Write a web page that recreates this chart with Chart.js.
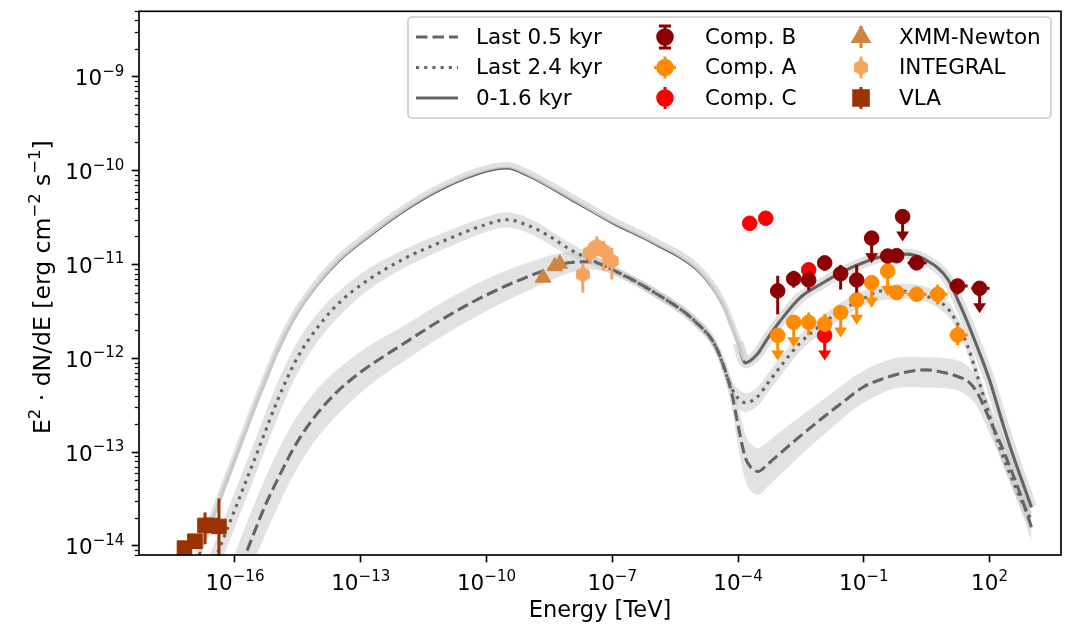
<!DOCTYPE html>
<html>
<head>
<meta charset="utf-8">
<title>SED</title>
<script src="https://cdn.jsdelivr.net/npm/chart.js@4.4.0/dist/chart.umd.min.js"></script>
<style>
  html, body { margin: 0; padding: 0; background: #fff; }
  canvas { display: block; }
</style>
</head>
<body>
<canvas id="sed" width="1074" height="627"></canvas>
<script>
// Energies in TeV, fluxes as E^2 dN/dE in erg cm^-2 s^-1

// model: 0-1.6 kyr (solid)
const model16Energy = [1e-17, 2e-17, 3e-17, 5e-17, 1e-16, 2e-16, 3e-16, 5e-16, 1e-15, 3e-15, 1e-14, 3e-14, 1e-13, 1e-12, 1e-11, 1e-10, 3e-10, 1e-9, 1e-8, 1e-7, 1e-6, 1e-5, 3e-5, 5e-5, 7e-5, 1e-4, 1.5e-4, 2e-4, 3e-4, 5e-4, 1e-3, 3e-3, 1e-2, 3e-2, 0.1, 0.3, 1, 3, 10, 20, 30, 50, 100, 200, 300, 500, 1000];
const model16Flux = [5.35e-15, 1.24e-14, 2.00e-14, 3.68e-14, 8.36e-14, 1.89e-13, 3.05e-13, 5.37e-13, 1.15e-12, 3.01e-12, 6.41e-12, 1.10e-11, 1.72e-11, 3.66e-11, 6.64e-11, 9.91e-11, 1.07e-10, 8.85e-11, 5.02e-11, 2.80e-11, 1.68e-11, 9.04e-12, 4.99e-12, 3.26e-12, 2.21e-12, 1.46e-12, 8.93e-13, 9.46e-13, 1.13e-12, 1.61e-12, 2.48e-12, 4.41e-12, 6.27e-12, 8.30e-12, 1.05e-11, 1.23e-11, 1.29e-11, 1.12e-11, 7.01e-12, 3.66e-12, 2.40e-12, 1.35e-12, 5.86e-13, 2.12e-13, 1.19e-13, 6.15e-14, 2.57e-14];

// model: last 2.4 kyr (dotted)
const model24Energy = [2e-17, 3e-17, 5e-17, 1e-16, 2e-16, 3e-16, 5e-16, 1e-15, 3e-15, 1e-14, 3e-14, 1e-13, 1e-12, 1e-11, 1e-10, 3e-10, 1e-9, 3e-9, 1e-8, 3e-8, 1e-7, 1e-6, 1e-5, 3e-5, 7e-5, 1e-4, 1.5e-4, 2e-4, 3e-4, 5e-4, 1e-3, 3e-3, 1e-2, 3e-2, 0.1, 0.3, 1, 3, 10, 20, 30, 50, 100, 200, 300, 500, 1000];
const model24Flux = [4.01e-15, 6.28e-15, 1.12e-14, 2.45e-14, 5.40e-14, 8.59e-14, 1.55e-13, 3.43e-13, 9.91e-13, 2.22e-12, 3.87e-12, 6.03e-12, 1.13e-11, 1.80e-11, 2.68e-11, 3.00e-11, 2.60e-11, 2.03e-11, 1.44e-11, 1.13e-11, 8.81e-12, 5.05e-12, 2.42e-12, 1.31e-12, 4.82e-13, 3.76e-13, 3.35e-13, 3.46e-13, 3.94e-13, 5.33e-13, 8.02e-13, 1.45e-12, 2.30e-12, 3.25e-12, 4.36e-12, 5.26e-12, 5.18e-12, 4.62e-12, 3.40e-12, 2.05e-12, 1.35e-12, 6.71e-13, 2.44e-13, 9.46e-14, 6.00e-14, 3.48e-14, 1.87e-14];
const model24BandEnergy = [2e-17, 1e-16, 3e-16, 1e-15, 3e-15, 1e-14, 1e-13, 1e-12, 1e-11, 1e-10, 3e-10, 1e-9, 1e-8, 1e-7, 1e-6, 1e-5, 3e-5, 7e-5, 1e-4, 1.5e-4, 2e-4, 3e-4, 5e-4, 1e-3, 3e-3, 1e-2, 0.1, 1, 10, 20, 30, 50, 100, 200, 300, 500, 1000];
const model24BandHigh = [6.21e-15, 3.80e-14, 1.33e-13, 5.31e-13, 1.47e-12, 3.14e-12, 7.95e-12, 1.42e-11, 2.21e-11, 3.22e-11, 3.61e-11, 3.13e-11, 1.69e-11, 9.88e-12, 5.67e-12, 2.72e-12, 1.50e-12, 5.79e-13, 4.73e-13, 4.22e-13, 4.36e-13, 4.96e-13, 6.71e-13, 1.01e-12, 1.78e-12, 2.83e-12, 5.24e-12, 6.23e-12, 4.09e-12, 2.46e-12, 1.66e-12, 8.25e-13, 3.07e-13, 1.19e-13, 7.55e-14, 4.38e-14, 2.35e-14];
const model24BandLow = [2.59e-15, 1.58e-14, 5.55e-14, 2.21e-13, 6.70e-13, 1.57e-12, 4.58e-12, 8.98e-12, 1.46e-11, 2.23e-11, 2.50e-11, 2.16e-11, 1.23e-11, 7.85e-12, 4.50e-12, 2.16e-12, 1.14e-12, 4.01e-13, 2.99e-13, 2.66e-13, 2.75e-13, 3.13e-13, 4.23e-13, 6.37e-13, 1.18e-12, 1.87e-12, 3.63e-12, 4.31e-12, 2.83e-12, 1.71e-12, 1.10e-12, 5.46e-13, 1.94e-13, 7.51e-14, 4.77e-14, 2.76e-14, 1.49e-14];

// model: last 0.5 kyr (dashed)
const model05Energy = [1e-16, 2e-16, 3e-16, 5e-16, 1e-15, 3e-15, 1e-14, 3e-14, 1e-13, 1e-12, 1e-11, 1e-10, 1e-9, 3e-9, 1e-8, 3e-8, 1e-7, 1e-6, 1e-5, 3e-5, 7e-5, 1e-4, 1.5e-4, 2e-4, 3e-4, 5e-4, 1e-3, 3e-3, 1e-2, 3e-2, 0.1, 0.3, 1, 3, 10, 20, 30, 50, 100, 200, 300, 500, 1000];
const model05Flux = [4.18e-15, 9.16e-15, 1.45e-14, 2.55e-14, 4.93e-14, 1.26e-13, 2.70e-13, 4.56e-13, 7.13e-13, 1.41e-12, 2.70e-12, 4.73e-12, 7.46e-12, 8.89e-12, 1.05e-11, 1.07e-11, 8.81e-12, 5.05e-12, 2.42e-12, 1.31e-12, 4.33e-13, 1.94e-13, 8.69e-14, 6.90e-14, 6.19e-14, 7.35e-14, 9.64e-14, 1.47e-13, 2.28e-13, 3.34e-13, 4.97e-13, 6.08e-13, 7.11e-13, 7.52e-13, 6.89e-13, 6.24e-13, 5.73e-13, 4.34e-13, 2.23e-13, 1.12e-13, 7.11e-14, 3.92e-14, 1.58e-14];
const model05BandEnergy = [1e-16, 3e-16, 1e-15, 3e-15, 1e-14, 1e-13, 1e-12, 1e-11, 1e-10, 1e-9, 1e-8, 3e-8, 1e-7, 1e-6, 1e-5, 3e-5, 7e-5, 1e-4, 1.5e-4, 2e-4, 3e-4, 5e-4, 1e-3, 3e-3, 1e-2, 0.1, 1, 10, 30, 50, 100, 200, 300, 500, 1000];
const model05BandHigh = [8.34e-15, 2.89e-14, 9.84e-14, 2.40e-13, 4.91e-13, 1.18e-12, 2.18e-12, 4.09e-12, 7.00e-12, 1.05e-11, 1.35e-11, 1.29e-11, 9.88e-12, 5.67e-12, 2.78e-12, 1.57e-12, 6.12e-13, 3.22e-13, 1.55e-13, 1.23e-13, 1.10e-13, 1.28e-13, 1.64e-13, 2.38e-13, 3.53e-13, 7.35e-13, 1.03e-12, 9.96e-13, 8.28e-13, 6.13e-13, 3.15e-13, 1.58e-13, 1.00e-13, 5.54e-14, 2.23e-14];
const model05BandLow = [2.10e-15, 7.27e-15, 2.47e-14, 6.61e-14, 1.48e-13, 4.30e-13, 9.10e-13, 1.78e-12, 3.20e-12, 5.28e-12, 8.15e-12, 8.90e-12, 7.85e-12, 4.50e-12, 2.11e-12, 1.09e-12, 3.06e-13, 1.17e-13, 4.89e-14, 3.88e-14, 3.48e-14, 4.23e-14, 5.68e-14, 9.06e-14, 1.47e-13, 3.36e-13, 4.92e-13, 4.77e-13, 3.97e-13, 3.07e-13, 1.58e-13, 7.93e-14, 5.03e-14, 2.77e-14, 1.12e-14];

// gamma-ray components (null = no bar)
const compBEnergy = [8.85e-4, 2.13e-3, 4.85e-3, 1.17e-2, 2.81e-2, 6.78e-2, 0.154, 0.372, 0.608, 0.845, 1.82, 17.3, 58.0];
const compBFlux = [5.23e-12, 7.05e-12, 6.84e-12, 1.04e-11, 7.96e-12, 6.84e-12, 1.91e-11, 1.23e-11, 1.24e-11, 3.24e-11, 1.04e-11, 5.90e-12, 5.57e-12];
const compBLow = [2.94e-12, 5.66e-12, 5.27e-12, 8.57e-12, 5.40e-12, 5.01e-12, null, 1.10e-11, 1.11e-11, null, 9.30e-12, 4.78e-12, null];
const compBHigh = [7.59e-12, 8.57e-12, 8.57e-12, 1.23e-11, 9.91e-12, 9.91e-12, null, 1.38e-11, 1.38e-11, null, 1.16e-11, 6.89e-12, null];
const compBEnergyLow = [null, null, null, null, null, null, null, null, null, null, 1.11, 11.2, 36.7];
const compBEnergyHigh = [null, null, null, null, null, null, null, null, null, null, 3.16, 30.0, 100];
const compBUpper = [false, false, false, false, false, false, true, false, false, true, false, false, true];

const compAEnergy = [8.85e-4, 2.13e-3, 4.85e-3, 1.17e-2, 2.81e-2, 6.78e-2, 0.154, 0.372, 0.608, 1.82, 5.78, 17.3];
const compAFlux = [1.75e-12, 2.42e-12, 2.42e-12, 2.32e-12, 3.08e-12, 4.20e-12, 6.40e-12, 8.51e-12, 5.01e-12, 4.81e-12, 4.81e-12, 1.77e-12];
const compALow = [null, null, 1.76e-12, 1.90e-12, null, null, null, null, 4.50e-12, 4.40e-12, 3.75e-12, 1.38e-12];
const compAHigh = [null, null, 3.08e-12, 2.96e-12, null, null, null, null, 5.60e-12, 5.30e-12, 6.09e-12, 2.25e-12];
const compAEnergyLow = [null, null, null, null, null, null, null, null, 0.372, 1.11, 3.73, 11.2];
const compAEnergyHigh = [null, null, null, null, null, null, null, null, 1.05, 3.16, 10.0, 30.0];
const compAUpper = [true, true, false, false, true, true, true, true, false, false, false, false];

const compCEnergy = [1.90e-4, 4.58e-4, 4.85e-3, 1.17e-2];
const compCFlux = [2.75e-11, 3.11e-11, 8.77e-12, 1.75e-12];
const compCUpper = [false, false, false, true];

// X-ray, hard X-ray and radio points
const xmmEnergy = [2.24e-9, 4.27e-9, 5.61e-9];
const xmmFlux = [7.23e-12, 9.59e-12, 1.02e-11];

const integralEnergy = [1.99e-8, 2.91e-8, 4.28e-8, 6.28e-8, 9.75e-8];
const integralFlux = [7.83e-12, 1.33e-11, 1.57e-11, 1.39e-11, 1.09e-11];
const integralLow = [5.01e-12, 1.04e-11, 1.23e-11, 8.57e-12, 6.89e-12];
const integralHigh = [1.04e-11, 1.69e-11, 2.00e-11, 1.78e-11, 1.50e-11];

const vlaEnergy = [6.25e-18, 1.11e-17, 1.93e-17, 2.83e-17, 4.15e-17];
const vlaFlux = [9.44e-15, 1.12e-14, 1.65e-14, 1.65e-14, 1.61e-14];
const vlaLow = [null, null, 1.04e-14, null, 7.78e-15];
const vlaHigh = [null, null, 2.27e-14, null, 3.19e-14];

// axis ticks
const xTicks = [1e-16, 1e-13, 1e-10, 1e-7, 1e-4, 1e-1, 1e2];
const yTicks = [1e-14, 1e-13, 1e-12, 1e-11, 1e-10, 1e-9];

const FONT = 'DejaVu Sans';
const FS = 21.5;
const LABEL_FS = 22.5;
const LINE = '#646464';
const BAND = 'rgba(190,190,190,0.45)';
const COL = {
  compB: '#8b0000', compA: '#ff8c00', compC: '#ff0000',
  xmm: '#cd853f', integral: '#f4a460', vla: '#9a3300'
};

const pts = (xs, ys) => xs.map((v, i) => ({ x: v, y: ys[i] }));
const font = size => size + 'px "' + FONT + '"';

function hexagon(r, color) {
  const c = document.createElement('canvas');
  const s = Math.ceil(2 * r + 2);
  c.width = c.height = s;
  const g = c.getContext('2d');
  g.fillStyle = color;
  g.beginPath();
  for (let k = 0; k < 6; k++) {
    const a = -Math.PI / 2 + k * Math.PI / 3;
    const px = s / 2 + r * Math.cos(a), py = s / 2 + r * Math.sin(a);
    if (k) g.lineTo(px, py); else g.moveTo(px, py);
  }
  g.closePath();
  g.fill();
  return c;
}
const hexIntegral = hexagon(8, COL.integral);

const lineBase = {
  showLine: true, pointRadius: 0, pointHoverRadius: 0, fill: false,
  cubicInterpolationMode: 'monotone', capBezierPoints: false,
  borderCapStyle: 'butt', clip: 0
};
const markerBase = { showLine: false, pointBorderWidth: 1, clip: 0, order: 0 };

function markers(label, xs, ys, color, style, radius, errors) {
  return Object.assign({}, markerBase, {
    label, data: pts(xs, ys), pointStyle: style, pointRadius: radius,
    pointBackgroundColor: color, pointBorderColor: color, errColor: color, errors
  });
}

// the 0-1.6 kyr band lies just above the line on the low-energy hump
const HUMP = 27;

const datasets = [
  markers('Comp. B', compBEnergy, compBFlux, COL.compB, 'circle', 7.3,
    { low: compBLow, high: compBHigh, eLow: compBEnergyLow, eHigh: compBEnergyHigh, upper: compBUpper }),
  markers('Comp. A', compAEnergy, compAFlux, COL.compA, 'circle', 7.3,
    { low: compALow, high: compAHigh, eLow: compAEnergyLow, eHigh: compAEnergyHigh, upper: compAUpper }),
  markers('Comp. C', compCEnergy, compCFlux, COL.compC, 'circle', 7.3, { upper: compCUpper }),
  markers('XMM-Newton', xmmEnergy, xmmFlux, COL.xmm, 'triangle', 9, null),
  markers('INTEGRAL', integralEnergy, integralFlux, COL.integral, hexIntegral, 8, { low: integralLow, high: integralHigh }),
  markers('VLA', vlaEnergy, vlaFlux, COL.vla, 'rect', 10.3, { low: vlaLow, high: vlaHigh }),

  Object.assign({}, lineBase, {
    data: pts(model16Energy.slice(0, HUMP), model16Flux.slice(0, HUMP)),
    borderColor: 'rgba(218,218,218,0.85)', borderWidth: 6, shiftY: -3, order: 0.5
  }),

  Object.assign({}, lineBase, { label: '0-1.6 kyr', data: pts(model16Energy, model16Flux), borderColor: LINE, borderWidth: 3.1, order: 1 }),
  Object.assign({}, lineBase, { label: 'Last 2.4 kyr', data: pts(model24Energy, model24Flux), borderColor: LINE, borderWidth: 3.1, borderDash: [3.1, 5.1], order: 1 }),
  Object.assign({}, lineBase, { label: 'Last 0.5 kyr', data: pts(model05Energy, model05Flux), borderColor: LINE, borderWidth: 3.1, borderDash: [11.5, 5], order: 1 }),

  Object.assign({}, lineBase, {
    data: pts(model16Energy.slice(HUMP - 2), model16Flux.slice(HUMP - 2)),
    borderColor: 'rgba(195,195,195,0.5)', borderWidth: 11, order: 2
  }),

  Object.assign({}, lineBase, { data: pts(model24BandEnergy, model24BandHigh), borderWidth: 0, fill: '+1', backgroundColor: BAND, order: 3 }),
  Object.assign({}, lineBase, { data: pts(model24BandEnergy, model24BandLow), borderWidth: 0, order: 3 }),
  Object.assign({}, lineBase, { data: pts(model05BandEnergy, model05BandHigh), borderWidth: 0, fill: '+1', backgroundColor: BAND, order: 3 }),
  Object.assign({}, lineBase, { data: pts(model05BandEnergy, model05BandLow), borderWidth: 0, order: 3 })
];

function downArrow(ctx, x, y) {
  ctx.beginPath();
  ctx.moveTo(x, y);
  ctx.lineTo(x, y + 16);
  ctx.stroke();
  ctx.beginPath();
  ctx.moveTo(x - 6.5, y + 15);
  ctx.lineTo(x + 6.5, y + 15);
  ctx.lineTo(x, y + 25);
  ctx.closePath();
  ctx.fill();
}

// error bars and upper-limit arrows, drawn under their markers
const errorBars = {
  id: 'errorBars',
  beforeDatasetDraw(chart, args) {
    const ds = chart.data.datasets[args.index];
    if (ds.shiftY) {
      chart.ctx.save();
      chart.ctx.translate(0, ds.shiftY);
    }
    const e = ds.errors;
    if (!e) return;
    const { ctx, scales: { x, y } } = chart;
    ctx.save();
    ctx.strokeStyle = ds.errColor;
    ctx.fillStyle = ds.errColor;
    ctx.lineWidth = 3;
    ds.data.forEach((p, i) => {
      const px = x.getPixelForValue(p.x), py = y.getPixelForValue(p.y);
      if (e.low && e.low[i] != null) {
        ctx.beginPath();
        ctx.moveTo(px, y.getPixelForValue(e.low[i]));
        ctx.lineTo(px, y.getPixelForValue(e.high[i]));
        ctx.stroke();
      }
      if (e.eLow && e.eLow[i] != null) {
        ctx.beginPath();
        ctx.moveTo(x.getPixelForValue(e.eLow[i]), py);
        ctx.lineTo(x.getPixelForValue(e.eHigh[i]), py);
        ctx.stroke();
      }
      if (e.upper && e.upper[i]) downArrow(ctx, px, py);
    });
    ctx.restore();
  },
  afterDatasetDraw(chart, args) {
    if (chart.data.datasets[args.index].shiftY) chart.ctx.restore();
  }
};

// "10" with a raised, smaller exponent, baseline at y
function powText(ctx, exp, x, y, align) {
  const e = String(exp).replace('-', '\u2212');
  const small = FS * 0.7;
  ctx.font = font(FS);
  const w1 = ctx.measureText('10').width;
  ctx.font = font(small);
  const w2 = ctx.measureText(e).width;
  const x0 = align === 'center' ? x - (w1 + w2) / 2 : x - (w1 + w2);
  ctx.font = font(FS);
  ctx.fillText('10', x0, y);
  ctx.font = font(small);
  ctx.fillText(e, x0 + w1, y - 9.5);
}

// run of normal and superscript pieces starting at (x, y)
function richText(ctx, parts, size, x, y, measureOnly) {
  let w = 0;
  parts.forEach(([t, s]) => {
    ctx.font = font(s ? size * 0.7 : size);
    if (!measureOnly) ctx.fillText(t, x + w, s ? y - size * 0.44 : y);
    w += ctx.measureText(t).width;
  });
  return w;
}

// axes frame, minor y ticks, tick labels and the y title
const frame = {
  id: 'frame',
  afterDatasetsDraw(chart) {
    const { ctx, chartArea: a, scales: { x, y } } = chart;
    ctx.save();
    ctx.strokeStyle = '#000';
    ctx.lineWidth = 1.25;
    for (let p = -15; p <= -9; p++) {
      for (let m = 2; m <= 9; m++) {
        const v = m * Math.pow(10, p);
        if (v < y.min || v > y.max) continue;
        const py = Math.round(y.getPixelForValue(v)) + 0.5;
        ctx.beginPath();
        ctx.moveTo(a.left, py);
        ctx.lineTo(a.left - 4.2, py);
        ctx.stroke();
      }
    }
    ctx.lineWidth = 1.67;
    ctx.strokeRect(a.left, a.top, a.right - a.left, a.bottom - a.top);

    ctx.fillStyle = '#000';
    ctx.textBaseline = 'alphabetic';
    ctx.textAlign = 'left';
    xTicks.forEach(v => powText(ctx, Math.round(Math.log10(v)), x.getPixelForValue(v), 590, 'center'));
    yTicks.forEach(v => powText(ctx, Math.round(Math.log10(v)), a.left - 14.6, y.getPixelForValue(v) + 8.5, 'right'));

    const title = [['E', 0], ['2', 1], [' \u00b7 dN/dE [erg cm', 0], ['\u22122', 1], [' s', 0], ['\u22121', 1], [']', 0]];
    const tsize = 23.5;
    const tw = richText(ctx, title, tsize, 0, 0, true);
    ctx.translate(42, (a.top + a.bottom) / 2 + 4);
    ctx.rotate(-Math.PI / 2);
    richText(ctx, title, tsize, -tw / 2, 8.2, false);
    ctx.restore();
  }
};

// three-column legend box in the upper right
const legendBox = {
  id: 'legendBox',
  afterDraw(chart) {
    const ctx = chart.ctx;
    const bx = 408, by = 17, bw = 643, bh = 101, r = 4;
    ctx.save();
    ctx.beginPath();
    ctx.moveTo(bx + r, by);
    ctx.arcTo(bx + bw, by, bx + bw, by + bh, r);
    ctx.arcTo(bx + bw, by + bh, bx, by + bh, r);
    ctx.arcTo(bx, by + bh, bx, by, r);
    ctx.arcTo(bx, by, bx + bw, by, r);
    ctx.closePath();
    ctx.fillStyle = 'rgba(255,255,255,0.8)';
    ctx.fill();
    ctx.strokeStyle = '#cccccc';
    ctx.lineWidth = 1.67;
    ctx.stroke();

    const rows = [37, 67.5, 98];
    ctx.font = font(FS);
    ctx.textBaseline = 'middle';
    ctx.fillStyle = '#000';

    // model lines
    const dashes = [[11.5, 5], [3.1, 5.1], []];
    ['Last 0.5 kyr', 'Last 2.4 kyr', '0-1.6 kyr'].forEach((t, i) => {
      ctx.save();
      ctx.strokeStyle = LINE;
      ctx.lineWidth = 3.1;
      ctx.setLineDash(dashes[i]);
      ctx.beginPath();
      ctx.moveTo(416, rows[i]);
      ctx.lineTo(458, rows[i]);
      ctx.stroke();
      ctx.restore();
      ctx.fillText(t, 476, rows[i] + 1);
    });

    const vbar = (x, y, c, cap) => {
      ctx.strokeStyle = c;
      ctx.lineWidth = 3;
      ctx.beginPath();
      ctx.moveTo(x, y - 11);
      ctx.lineTo(x, y + 11);
      if (cap) {
        ctx.moveTo(x - 6, y - 11); ctx.lineTo(x + 6, y - 11);
        ctx.moveTo(x - 6, y + 11); ctx.lineTo(x + 6, y + 11);
      }
      ctx.stroke();
    };
    const mark = (style, radius, x, y, c) => {
      ctx.fillStyle = c;
      ctx.strokeStyle = c;
      Chart.helpers.drawPoint(ctx, { pointStyle: style, radius, rotation: 0, borderWidth: 1 }, x, y);
    };

    // gamma-ray components
    const cx2 = 665;
    vbar(cx2, rows[0], COL.compB, true);
    mark('circle', 7.3, cx2, rows[0], COL.compB);
    vbar(cx2, rows[1], COL.compA, false);
    ctx.beginPath(); ctx.moveTo(cx2 - 11, rows[1]); ctx.lineTo(cx2 + 11, rows[1]); ctx.stroke();
    mark('circle', 7.3, cx2, rows[1], COL.compA);
    vbar(cx2, rows[2], COL.compC, false);
    mark('circle', 7.3, cx2, rows[2], COL.compC);

    // other instruments
    const cx3 = 861;
    vbar(cx3, rows[0], COL.xmm, false);
    mark('triangle', 9, cx3, rows[0], COL.xmm);
    vbar(cx3, rows[1], COL.integral, false);
    ctx.drawImage(hexIntegral, cx3 - hexIntegral.width / 2, rows[1] - hexIntegral.height / 2);
    vbar(cx3, rows[2], COL.vla, false);
    mark('rect', 10.3, cx3, rows[2], COL.vla);

    ctx.fillStyle = '#000';
    ['Comp. B', 'Comp. A', 'Comp. C'].forEach((t, i) => ctx.fillText(t, 705, rows[i] + 1));
    ['XMM-Newton', 'INTEGRAL', 'VLA'].forEach((t, i) => ctx.fillText(t, 899, rows[i] + 1));
    ctx.restore();
  }
};

const gridOpts = { display: true, drawOnChartArea: false, drawTicks: true, tickLength: 7.3, tickWidth: 1.67, tickColor: '#000' };
const noPad = axis => { axis.paddingTop = 0; axis.paddingBottom = 0; axis.paddingLeft = 0; axis.paddingRight = 0; };

new Chart(document.getElementById('sed'), {
  type: 'scatter',
  data: { datasets },
  options: {
    responsive: false,
    animation: false,
    events: [],
    devicePixelRatio: 1,
    layout: { padding: { top: 6, right: 13, left: 0, bottom: 0 } },
    plugins: { legend: { display: false }, tooltip: { enabled: false } },
    scales: {
      x: {
        type: 'logarithmic',
        position: 'bottom',
        min: Math.pow(10, -18.289),
        max: Math.pow(10, 3.705),
        border: { display: false },
        grid: gridOpts,
        ticks: { display: false },
        afterBuildTicks: axis => { axis.ticks = xTicks.map(v => ({ value: v })); },
        afterFit: axis => { axis.height = 72; noPad(axis); },
        title: { display: true, text: 'Energy [TeV]', color: '#000', font: { family: FONT, size: LABEL_FS }, padding: { top: 0, bottom: 2 } }
      },
      y: {
        type: 'logarithmic',
        position: 'left',
        min: Math.pow(10, -14.098),
        max: Math.pow(10, -8.300),
        border: { display: false },
        grid: gridOpts,
        ticks: { display: false },
        afterBuildTicks: axis => { axis.ticks = yTicks.map(v => ({ value: v })); },
        afterFit: axis => { axis.width = 139; noPad(axis); }
      }
    }
  },
  plugins: [errorBars, frame, legendBox]
});
</script>
</body>
</html>
